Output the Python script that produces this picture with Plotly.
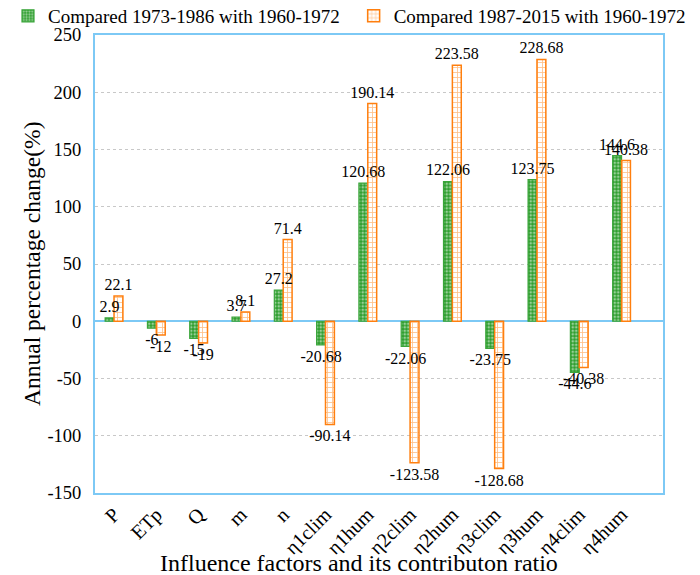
import plotly.graph_objects as go

categories = ["P", "ETp", "Q", "m", "n", "η1clim", "η1hum", "η2clim", "η2hum",
              "η3clim", "η3hum", "η4clim", "η4hum"]
series1_name = "Compared 1973-1986 with 1960-1972"
series2_name = "Compared 1987-2015 with 1960-1972"
series1 = [2.9, -6, -15, 3.7, 27.2, -20.68, 120.68, -22.06, 122.06, -23.75, 123.75, -44.6, 144.6]
series2 = [22.1, -12, -19, 8.1, 71.4, -90.14, 190.14, -123.58, 223.58, -128.68, 228.68, -40.38, 140.38]
labels1 = ["2.9", "-6", "-15", "3.7", "27.2", "-20.68", "120.68", "-22.06", "122.06", "-23.75", "123.75", "-44.6", "144.6"]
labels2 = ["22.1", "-12", "-19", "8.1", "71.4", "-90.14", "190.14", "-123.58", "223.58", "-128.68", "228.68", "-40.38", "140.38"]
y_tickvals = [-150, -100, -50, 0, 50, 100, 150, 200, 250]
y_ticktext = ["-150", "-100", "-50", "0", "50", "100", "150", "200", "250"]
x_title = "Influence factors and its contributon ratio"
y_title = "Annual percentage change(%)"

FONT = "Liberation Serif"
axis_blue = "#7dc9f5"
green = "#2e9e2e"
orange = "#ff7f0e"

fig = go.Figure()
fig.add_trace(go.Bar(
    x=categories, y=series1, name=series1_name, offsetgroup="a", legend="legend",
    marker=dict(color=green, line=dict(color="#3aa53a", width=1.2),
                pattern=dict(shape=".", fgcolor="white", bgcolor=green, size=3.5, solidity=0.45)),
))
fig.add_trace(go.Bar(
    x=categories, y=series2, name=series2_name, offsetgroup="b", legend="legend2",
    marker=dict(color="white", line=dict(color=orange, width=1.5),
                pattern=dict(shape="+", fgcolor=orange, bgcolor="white", size=5, solidity=0.3)),
))
# label-only traces drawn on top of all bars
for vals, labs, grp in [(series1, labels1, "a"), (series2, labels2, "b")]:
    fig.add_trace(go.Bar(
        x=categories, y=vals, offsetgroup=grp, showlegend=False, hoverinfo="skip",
        text=labs, textposition="outside", constraintext="none", cliponaxis=False,
        textfont=dict(family=FONT, size=16, color="black"),
        marker=dict(color="rgba(0,0,0,0)", line=dict(width=0)),
    ))

legend_common = dict(orientation="h", xref="container", yref="container",
                     xanchor="left", y=0.986, yanchor="middle",
                     font=dict(family=FONT, size=19), itemwidth=30,
                     bgcolor="rgba(0,0,0,0)", borderwidth=0)

# page has an 8px body margin, so the figure is 692x567 and offset by 8px
fig.update_layout(
    width=692, height=567,
    margin=dict(l=87, r=37, t=27, b=82, autoexpand=False),
    paper_bgcolor="white", plot_bgcolor="white",
    barmode="group", bargap=0.58, bargroupgap=0,
    font=dict(family=FONT, size=16, color="black"),
    showlegend=True,
    legend=dict(x=-0.006, **legend_common),
    legend2=dict(x=0.4995, **legend_common),
    annotations=[
        dict(text=x_title, xref="paper", yref="paper", x=0.4648, y=-0.153,
             xanchor="center", yanchor="middle", showarrow=False,
             font=dict(family=FONT, size=24, color="black")),
        dict(text=y_title, xref="paper", yref="paper", x=-0.111, y=0.5,
             xanchor="center", yanchor="middle", showarrow=False, textangle=-90,
             font=dict(family=FONT, size=23.5, color="black")),
    ],
)
fig.update_xaxes(
    type="category", range=[-0.45, 12.98], tickangle=-45, automargin=False,
    showline=True, mirror=True, linecolor=axis_blue, linewidth=2,
    showgrid=False, ticks="", ticklabelstandoff=0,
    tickfont=dict(family=FONT, size=20),
)
fig.update_yaxes(
    range=[-150, 250], tickvals=y_tickvals, ticktext=y_ticktext, automargin=False,
    showline=True, mirror=True, linecolor=axis_blue, linewidth=2,
    showgrid=True, gridcolor="#c8c8c8", griddash="dot", gridwidth=1,
    zeroline=True, zerolinecolor=axis_blue, zerolinewidth=2,
    ticks="", ticklabelstandoff=8, tickfont=dict(family=FONT, size=18.5),
)

fig.write_html("out.html")
